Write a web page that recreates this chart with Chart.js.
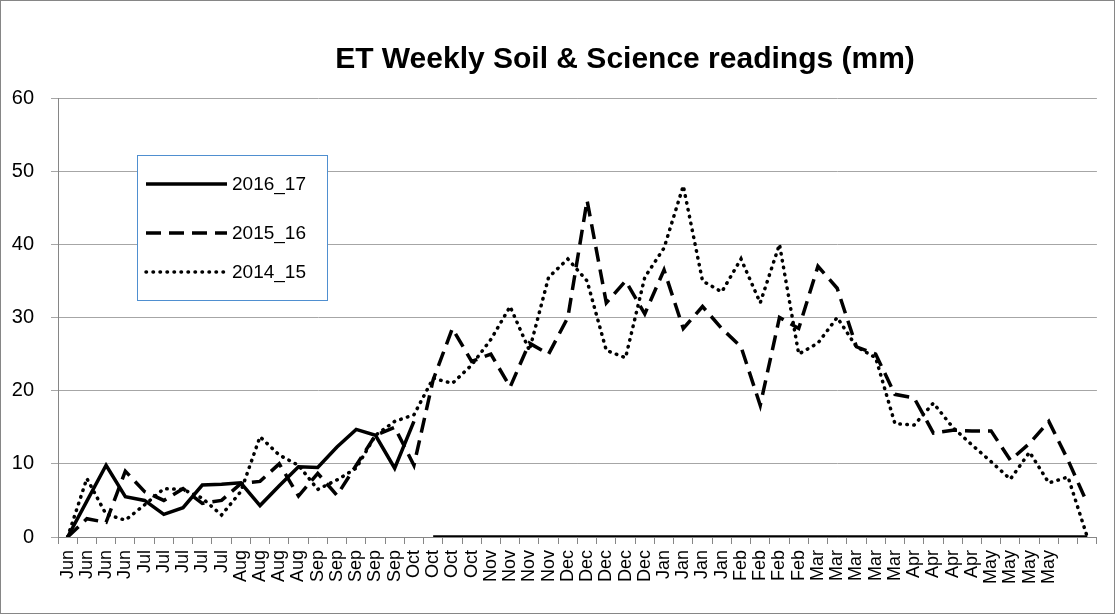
<!DOCTYPE html>
<html>
<head>
<meta charset="utf-8">
<script src="https://cdn.jsdelivr.net/npm/chart.js@4"></script>
<style>
  html, body { margin: 0; padding: 0; background: #fff; }
</style>
</head>
<body>
<canvas id="chart" width="1115" height="614"></canvas>
<script>
const titleText = "ET Weekly Soil & Science readings (mm)";

const weeks = [
  "Jun", "Jun", "Jun", "Jun",
  "Jul", "Jul", "Jul", "Jul", "Jul",
  "Aug", "Aug", "Aug", "Aug",
  "Sep", "Sep", "Sep", "Sep", "Sep",
  "Oct", "Oct", "Oct", "Oct",
  "Nov", "Nov", "Nov", "Nov",
  "Dec", "Dec", "Dec", "Dec", "Dec",
  "Jan", "Jan", "Jan", "Jan",
  "Feb", "Feb", "Feb", "Feb",
  "Mar", "Mar", "Mar", "Mar", "Mar",
  "Apr", "Apr", "Apr", "Apr",
  "May", "May", "May", "May",
  "", ""
];

const season2016 = [
  0, 4.9, 9.8, 5.5, 5.0, 3.1, 4.0, 7.1, 7.2, 7.4,
  4.3, 7.0, 9.6, 9.5, 12.3, 14.7, 13.9, 9.4, 15.8,
  0, 0, 0, 0, 0, 0, 0, 0, 0, 0,
  0, 0, 0, 0, 0, 0, 0, 0, 0, 0,
  0, 0, 0, 0, 0, 0, 0, 0, 0, 0,
  0, 0, 0, 0, 0
];

const season2015 = [
  0, 2.5, 2.0, 9.0, 6.2, 5.0, 6.6, 4.6, 5.0, 7.3,
  7.6, 10.0, 5.6, 8.7, 5.7, 9.8, 13.9, 15.0, 9.8, 21.5,
  28.5, 24, 25, 20.5, 26.5, 25, 30, 46, 32, 35,
  30.5, 36.5, 28.5, 31.5, 28.5, 26, 18, 30, 28.5, 37,
  34, 26, 25, 19.5, 19, 14.2, 14.6, 14.5, 14.5, 10.5,
  12.8, 15.8, 10.5, 4.6
];

const season2014 = [
  0, 8.0, 3.1, 2.3, 4.4, 6.6, 6.5, 5.3, 3.0, 6.2,
  13.7, 11.2, 9.8, 6.5, 7.8, 9.4, 13.9, 15.8, 16.7, 21.7,
  21, 23.5, 27, 31.5, 25.5, 35.5, 38, 35, 25.5, 24.5,
  35.5, 39.5, 48, 35, 33.5, 38, 32, 40, 25, 26.5,
  30, 26, 24.5, 15.5, 15.3, 18.3, 15, 12.6, 10.3, 7.9,
  11.6, 7.4, 8.2, 0
];

const seriesNames = ["2016_17", "2015_16", "2014_15"];

const FONT = "'Liberation Sans', Arial, sans-serif";
const dashPattern = [15, 8];
const dotPattern = [0.5, 6.5];

// the drop to zero after the last reading of 2016_17 is not drawn
function hideDrop(ctx) {
  if (ctx.p0DataIndex > 0 && ctx.p0.parsed.y > 0 && ctx.p1.parsed.y === 0) {
    return "rgba(0,0,0,0)";
  }
  return undefined;
}

const frameAndText = {
  id: "frameAndText",
  afterDraw(chart) {
    const c = chart.ctx;
    c.save();
    // outer border
    c.strokeStyle = "#868686";
    c.lineWidth = 1;
    c.strokeRect(0.5, 0.5, chart.width - 1, chart.height - 1);

    // title
    c.fillStyle = "#000";
    c.font = "bold 30px " + FONT;
    c.textAlign = "center";
    c.textBaseline = "alphabetic";
    c.fillText(titleText, 625, 68);

    // legend box
    const bx = 137, by = 155, bw = 190, bh = 145;
    c.fillStyle = "#fff";
    c.fillRect(bx, by, bw, bh);
    c.strokeStyle = "#4f8fd0";
    c.strokeRect(bx + 0.5, by + 0.5, bw, bh);

    const rows = [184, 233, 272];
    chart.data.datasets.forEach((ds, i) => {
      const y = rows[i];
      c.beginPath();
      c.strokeStyle = "#000";
      c.lineWidth = ds.borderWidth;
      c.lineCap = ds.borderCapStyle || "butt";
      c.setLineDash(ds.borderDash || []);
      c.moveTo(146, y);
      c.lineTo(227, y);
      c.stroke();
      c.setLineDash([]);
      c.fillStyle = "#000";
      c.font = "19px " + FONT;
      c.textAlign = "left";
      c.textBaseline = "middle";
      c.fillText(ds.label, 232, y + 1);
    });
    c.restore();
  }
};

new Chart(document.getElementById("chart").getContext("2d"), {
  type: "line",
  data: {
    labels: weeks,
    datasets: [
      {
        label: seriesNames[0],
        data: season2016,
        borderColor: "#000",
        borderWidth: 3.5,
        pointRadius: 0,
        tension: 0,
        segment: { borderColor: hideDrop },
      },
      {
        label: seriesNames[1],
        data: season2015,
        borderColor: "#000",
        borderWidth: 3.5,
        borderDash: dashPattern,
        pointRadius: 0,
        tension: 0,
      },
      {
        label: seriesNames[2],
        data: season2014,
        borderColor: "#000",
        borderWidth: 3.5,
        borderDash: dotPattern,
        borderCapStyle: "round",
        pointRadius: 0,
        tension: 0,
      },
    ],
  },
  options: {
    responsive: false,
    animation: false,
    layout: { padding: { left: 0, right: 11, top: 98, bottom: 0 } },
    plugins: {
      legend: { display: false },
      title: { display: false },
      tooltip: { enabled: false },
    },
    scales: {
      x: {
        type: "category",
        offset: true,
        afterFit: (scale) => { scale.height = 77; },
        grid: {
          offset: true,
          drawOnChartArea: false,
          drawTicks: true,
          tickLength: 7,
          color: "#868686",
        },
        border: { color: "#868686" },
        ticks: {
          autoSkip: false,
          minRotation: 90,
          maxRotation: 90,
          padding: 6,
          color: "#000",
          font: { family: FONT, size: 18 },
        },
      },
      y: {
        min: 0,
        max: 60,
        afterFit: (scale) => { scale.width = 58; },
        grid: {
          color: "#a6a6a6",
          tickLength: 7,
        },
        border: { color: "#868686" },
        ticks: {
          stepSize: 10,
          padding: 17,
          color: "#000",
          font: { family: FONT, size: 20 },
        },
      },
    },
  },
  plugins: [frameAndText],
});
</script>
</body>
</html>
